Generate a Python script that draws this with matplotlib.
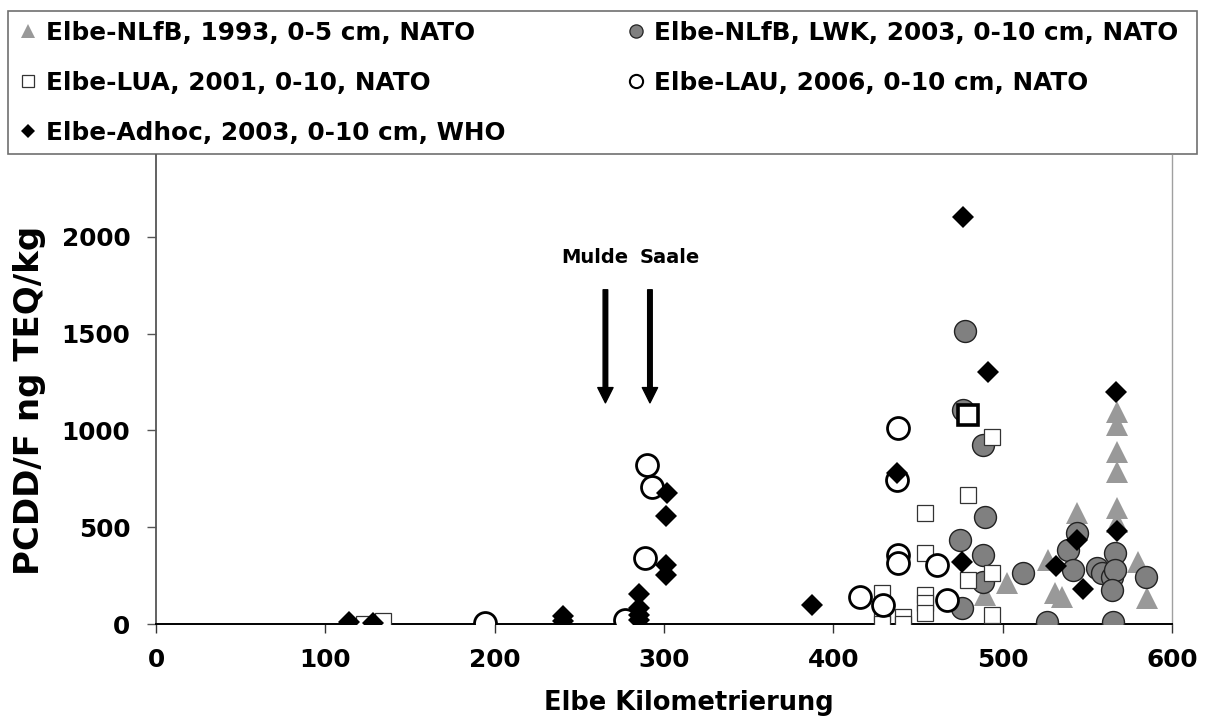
import matplotlib
matplotlib.use("Agg")
import matplotlib.pyplot as plt
from matplotlib.lines import Line2D
from matplotlib.patches import Rectangle

plt.rcParams['font.family'] = ['DejaVu Sans']
plt.rcParams['font.weight'] = 'bold'

# ---------------- data ----------------
tri_x = [567.6, 567.6, 567.6, 567.6, 567.6, 567.6, 544.0, 526.9, 502.7, 531.0, 580.0, 585.4, 535.1, 489.7]
tri_y = [1095, 1028, 888, 785, 599, 527, 573, 331, 212, 160, 320, 134, 139, 150]

gc_x = [477.9, 476.7, 488.5, 489.7, 488.5, 474.9, 488.5, 476.1, 512.1, 526.3, 538.7, 544.0,
        541.6, 555.8, 558.8, 564.7, 566.5, 566.5, 564.7, 565.3, 584.8]
gc_y = [1513, 1105, 924, 553, 356, 434, 217, 83, 263, 10, 382, 470,
        279, 289, 263, 243, 367, 279, 176, 10, 243]

sq_x = [122.9, 134.0, 428.8, 428.8, 428.8, 441.2, 441.2, 454.2, 454.2, 454.2, 454.2, 454.2,
        479.6, 479.6, 493.8, 493.8, 493.8]
sq_y = [0, 15, 160, 57, 0, 36, 0, 573, 367, 150, 108, 57,
        666, 227, 966, 263, 46]
sq_thick_x = [479.6]
sq_thick_y = [1079]

oc_x = [290.0, 293.0, 288.8, 277.0, 194.3, 438.3, 437.7, 438.3, 438.3, 461.3, 415.8, 429.4, 467.2]
oc_y = [821, 707, 341, 21, 5, 1012, 744, 356, 315, 305, 139, 98, 124]

dm_x = [114.0, 128.2, 240.4, 240.4, 301.8, 301.2, 301.2, 301.2, 285.3, 285.3, 285.3, 285.3,
        387.5, 437.7, 476.1, 476.7, 491.4, 567.0, 567.6, 544.0, 531.6, 547.6]
dm_y = [10, 5, 40, 15, 676, 558, 305, 253, 155, 83, 46, 21,
        98, 780, 320, 2102, 1301, 1198, 480, 434, 300, 181]

labels = ["Elbe-NLfB, 1993, 0-5 cm, NATO",
          "Elbe-LUA, 2001, 0-10, NATO",
          "Elbe-Adhoc, 2003, 0-10 cm, WHO",
          "Elbe-NLfB, LWK, 2003, 0-10 cm, NATO",
          "Elbe-LAU, 2006, 0-10 cm, NATO"]

x_ticks = [0, 100, 200, 300, 400, 500, 600]
y_ticks = [0, 500, 1000, 1500, 2000]

rivers = ["Mulde", "Saale"]
river_x = [265.4, 291.7]
river_text_x = [258.9, 303.6]

# ---------------- figure ----------------
W, H = 1205, 716
fig = plt.figure(figsize=(W / 100, H / 100), dpi=100)
ax = fig.add_axes([156 / W, (H - 624) / H, (1172 - 156) / W, (624 - 155) / H])
ax.set_xlim(0, 600)
ax.set_ylim(0, 2422)

TRI_C = '#999999'
GC_C = '#808080'

ax.plot(tri_x, tri_y, linestyle='none', marker='^', markersize=16.5,
        markerfacecolor=TRI_C, markeredgecolor=TRI_C, markeredgewidth=0, zorder=3)
ax.plot(gc_x, gc_y, linestyle='none', marker='o', markersize=15.8,
        markerfacecolor=GC_C, markeredgecolor='#222222', markeredgewidth=1.0, zorder=4)
ax.plot(sq_x, sq_y, linestyle='none', marker='s', markersize=12.2,
        markerfacecolor='white', markeredgecolor='#333333', markeredgewidth=0.9, zorder=5)
ax.plot(sq_thick_x, sq_thick_y, linestyle='none', marker='s', markersize=14.0,
        markerfacecolor='white', markeredgecolor='black', markeredgewidth=2.6, zorder=5)
ax.plot(oc_x, oc_y, linestyle='none', marker='o', markersize=15.8,
        markerfacecolor='white', markeredgecolor='black', markeredgewidth=2.0, zorder=6)
ax.plot(dm_x, dm_y, linestyle='none', marker='D', markersize=11.2,
        markerfacecolor='black', markeredgecolor='black', markeredgewidth=0, zorder=7)

# arrows and river labels
for rx, tx, name in zip(river_x, river_text_x, rivers):
    ax.annotate('', xy=(rx, 1142), xytext=(rx, 1726),
                arrowprops=dict(facecolor='black', edgecolor='black', width=3.3,
                                headwidth=11, headlength=11, shrink=0))
    ax.text(tx, 1894, name, ha='center', va='center', fontsize=14, fontweight='bold')

# spines & ticks
ax.spines['top'].set_visible(False)
ax.spines['right'].set_color('#a0a0a0')
ax.spines['right'].set_linewidth(1.0)
ax.spines['left'].set_color('#555555')
ax.spines['left'].set_linewidth(1.3)
ax.spines['bottom'].set_color('black')
ax.spines['bottom'].set_linewidth(1.4)

ax.set_xticks(x_ticks)
ax.set_xticklabels([str(v) for v in x_ticks])
ax.set_yticks(y_ticks)
ax.set_yticklabels([str(v) for v in y_ticks])
ax.tick_params(axis='x', direction='out', length=6.5, width=1.0, color='#333333',
               pad=11, labelsize=17.8)
ax.tick_params(axis='y', direction='out', length=6.5, width=1.0, color='#555555',
               pad=12, labelsize=17.8)
for lab in ax.get_xticklabels() + ax.get_yticklabels():
    lab.set_fontweight('bold')

fig.text(689 / W, 1 - 710 / H, "Elbe Kilometrierung", ha='center', va='baseline',
         fontsize=18.5, fontweight='bold')
fig.text(30 / W, 1 - 400 / H, "PCDD/F ng TEQ/kg", ha='center', va='center',
         rotation=90, fontsize=24.5, fontweight='bold')

# legend box
fig.add_artist(Rectangle((8 / W, 1 - 154 / H), (1197 - 8) / W, (154 - 11) / H,
                         transform=fig.transFigure, facecolor='white',
                         edgecolor='#707070', linewidth=1.2, zorder=0))

h_tri = Line2D([], [], linestyle='none', marker='^', markersize=10,
               markerfacecolor=TRI_C, markeredgecolor=TRI_C, markeredgewidth=0)
h_sq = Line2D([], [], linestyle='none', marker='s', markersize=9,
              markerfacecolor='white', markeredgecolor='#333333', markeredgewidth=0.9)
h_dm = Line2D([], [], linestyle='none', marker='D', markersize=7.5,
              markerfacecolor='black', markeredgecolor='black', markeredgewidth=0)
h_gc = Line2D([], [], linestyle='none', marker='o', markersize=9.5,
              markerfacecolor=GC_C, markeredgecolor='#222222', markeredgewidth=0.9)
h_oc = Line2D([], [], linestyle='none', marker='o', markersize=9.5,
              markerfacecolor='white', markeredgecolor='black', markeredgewidth=1.5)

leg_kw = dict(loc='upper left', frameon=False, borderpad=0, borderaxespad=0,
              handlelength=1.0, handletextpad=0.23, labelspacing=1.06,
              prop={'weight': 'bold', 'size': 17.8})
leg1 = fig.legend([h_tri, h_sq, h_dm], labels[:3],
                  bbox_to_anchor=(15.6 / W, 1 - 20.5 / H), **leg_kw)
leg2 = fig.legend([h_gc, h_oc], labels[3:],
                  bbox_to_anchor=(624 / W, 1 - 20.5 / H), **leg_kw)

fig.savefig("out.png", dpi=100)
